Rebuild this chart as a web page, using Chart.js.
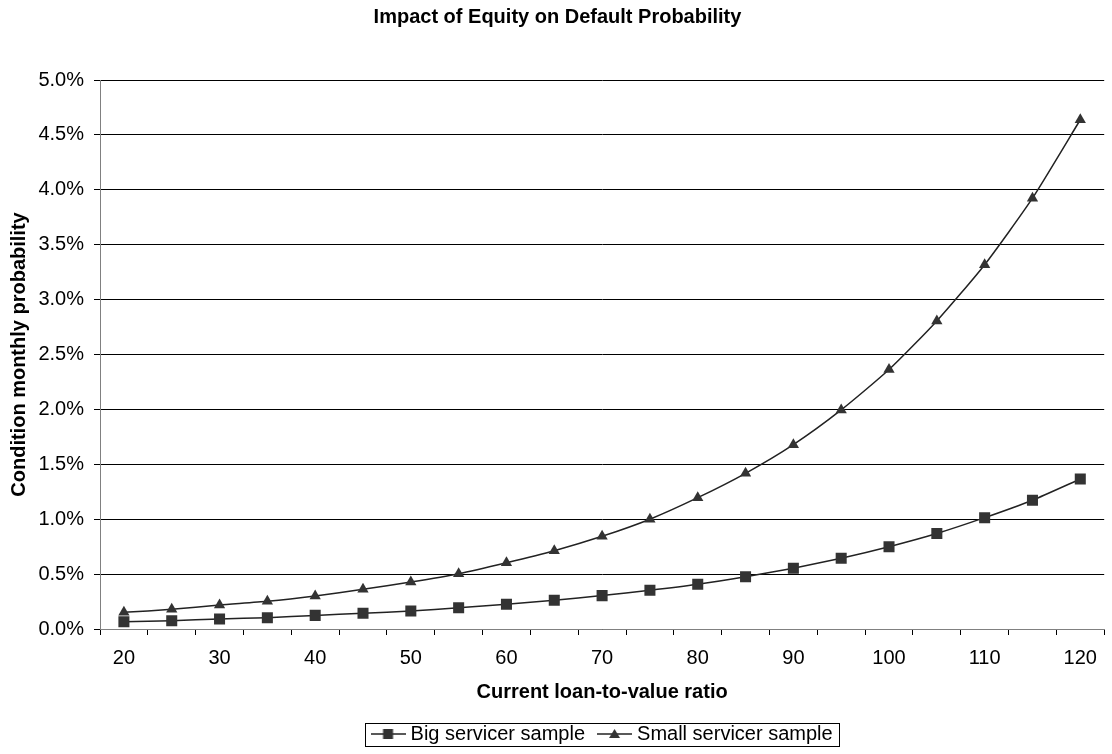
<!DOCTYPE html>
<html>
<head>
<meta charset="utf-8">
<script src="https://cdn.jsdelivr.net/npm/chart.js@4.4.1/dist/chart.umd.min.js"></script>
<style>
  html, body { margin: 0; padding: 0; background: #fff; }
  #wrap { width: 1112px; height: 754px; position: relative; }
</style>
</head>
<body>
<div id="wrap"><canvas id="equityChart"></canvas></div>
<script>
// loan-to-value categories
const ltv = [20, 25, 30, 35, 40, 45, 50, 55, 60, 65, 70, 75, 80, 85, 90, 95, 100, 105, 110, 115, 120];

// conditional monthly default probability, in %
const bigServicer = [0.067, 0.076, 0.091, 0.103, 0.124, 0.143, 0.164, 0.194, 0.225, 0.261, 0.304,
  0.352, 0.407, 0.476, 0.554, 0.645, 0.750, 0.870, 1.014, 1.173, 1.366];
const smallServicer = [0.152, 0.179, 0.219, 0.252, 0.300, 0.361, 0.428, 0.504, 0.604, 0.713, 0.844,
  1.000, 1.196, 1.418, 1.679, 1.995, 2.363, 2.806, 3.318, 3.924, 4.638];

const seriesNames = ["Big servicer sample", "Small servicer sample"];

Chart.defaults.font.family = "'Liberation Sans', Arial, sans-serif";
Chart.defaults.color = "#000";

// little "line + marker" pictures for the legend
function legendGlyph(kind) {
  const c = document.createElement('canvas');
  c.width = 35; c.height = 14;
  const g = c.getContext('2d');
  g.strokeStyle = '#222';
  g.lineWidth = 1.5;
  g.beginPath(); g.moveTo(0, 7); g.lineTo(35, 7); g.stroke();
  g.fillStyle = '#333';
  if (kind === 'rect') {
    g.fillRect(12.5, 2, 10, 10);
  } else {
    g.beginPath(); g.moveTo(17.5, 2); g.lineTo(23, 11); g.lineTo(12, 11); g.closePath(); g.fill();
  }
  return c;
}
const glyphs = [legendGlyph('rect'), legendGlyph('triangle')];

// center legend under the plot area and draw a box round it
const legendBox = {
  id: 'legendBox',
  afterLayout(chart) {
    const lg = chart.legend, ca = chart.chartArea;
    const shift = (ca.left + ca.right) / 2 - (lg.left + lg.right) / 2 + 2;
    lg.left += shift; lg.right += shift;
  },
  afterDraw(chart) {
    const boxes = chart.legend.legendHitBoxes;
    if (!boxes || !boxes.length) return;
    const first = boxes[0], last = boxes[boxes.length - 1];
    const ctx = chart.ctx;
    ctx.save();
    ctx.strokeStyle = '#000';
    ctx.lineWidth = 1;
    const l = Math.round(first.left - 11) + 0.5;
    const r = Math.round(last.left + last.width + 6) + 0.5;
    const t = Math.round(first.top - 1) + 0.5;
    const b = Math.round(first.top + first.height + 2) + 0.5;
    ctx.strokeRect(l, t, r - l, b - t);
    ctx.restore();
  }
};

new Chart(document.getElementById('equityChart'), {
  type: 'line',
  data: {
    labels: ltv,
    datasets: [
      { label: seriesNames[0], data: bigServicer, borderColor: '#222', backgroundColor: '#333',
        borderWidth: 1.5, pointStyle: 'rect', pointRadius: 7.8, pointBorderWidth: 0, tension: 0.2 },
      { label: seriesNames[1], data: smallServicer, borderColor: '#222', backgroundColor: '#333',
        borderWidth: 1.5, pointStyle: 'triangle', pointRadius: 6.5, pointBorderWidth: 0, tension: 0.2 }
    ]
  },
  options: {
    responsive: true,
    maintainAspectRatio: false,
    animation: false,
    layout: { padding: { left: 4, right: 1, top: 0, bottom: 0 } },
    plugins: {
      title: {
        display: true,
        text: 'Impact of Equity on Default Probability',
        font: { size: 20, weight: 'bold' },
        padding: { top: 5, bottom: 51 }
      },
      legend: {
        position: 'bottom',
        labels: {
          font: { size: 20 },
          usePointStyle: true,
          pointStyleWidth: 25,
          padding: 17,
          generateLabels(chart) {
            const items = Chart.defaults.plugins.legend.labels.generateLabels(chart);
            items.forEach((it, i) => { it.pointStyle = glyphs[i]; });
            return items;
          }
        }
      },
      tooltip: { enabled: false }
    },
    scales: {
      x: {
        type: 'category',
        offset: true,
        afterFit: (scale) => { scale.height = 78; },
        grid: { offset: true, drawOnChartArea: false, drawTicks: true, tickLength: 6, color: '#000' },
        border: { color: '#808080', width: 1 },
        ticks: {
          autoSkip: false, maxRotation: 0, padding: 11,
          font: { size: 20 },
          callback: (v, i) => (i % 2 === 0 ? String(ltv[i]) : '')
        },
        title: { display: true, text: 'Current loan-to-value ratio', font: { size: 20, weight: 'bold' }, padding: { top: 8, bottom: 3 } }
      },
      y: {
        min: 0, max: 5,
        afterFit: (scale) => { scale.width = 96; },
        grid: { color: '#000', lineWidth: 1, tickLength: 6 },
        border: { color: '#808080', width: 1 },
        ticks: { stepSize: 0.5, padding: 10, font: { size: 20 }, callback: v => v.toFixed(1) + '%' },
        title: { display: true, text: 'Condition monthly probability', font: { size: 20, weight: 'bold' }, padding: { top: 3, bottom: 6 } }
      }
    }
  },
  plugins: [legendBox]
});
</script>
</body>
</html>
